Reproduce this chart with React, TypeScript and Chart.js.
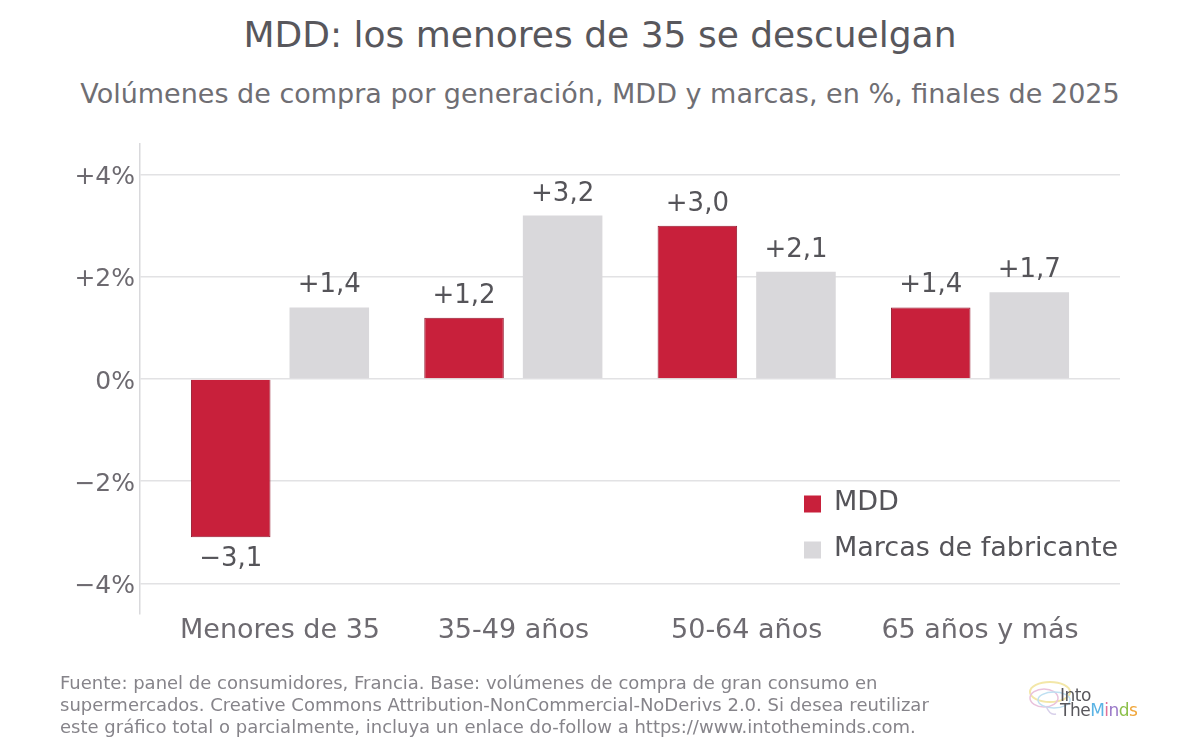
import React, { useEffect, useRef } from "react";
import { Chart, registerables } from "chart.js";

Chart.register(...registerables);

const categories = ["Menores de 35", "35-49 años", "50-64 años", "65 años y más"];
const seriesNames = ["MDD", "Marcas de fabricante"];
const mddValues = [-3.1, 1.2, 3.0, 1.4];
const marcasValues = [1.4, 3.2, 2.1, 1.7];
const yTicks = [-4, -2, 0, 2, 4];
const seriesColors = ["#c8203b", "#d9d8db"];

const FONT = '"DejaVu Sans", sans-serif';

const fmtValue = (v: number) =>
  (v >= 0 ? "+" : "\u2212") + Math.abs(v).toFixed(1).replace(".", ",");
const fmtTick = (v: number) =>
  (v > 0 ? "+" : v < 0 ? "\u2212" : "") + Math.abs(v) + "%";

const labelPlugin = {
  id: "valueLabelsAndLegend",
  afterDatasetsDraw(chart: any) {
    const ctx = chart.ctx;
    ctx.save();
    ctx.font = `26px ${FONT}`;
    ctx.fillStyle = "#555459";
    ctx.textAlign = "center";
    ctx.textBaseline = "alphabetic";
    chart.data.datasets.forEach((ds: any, di: number) => {
      const meta = chart.getDatasetMeta(di);
      meta.data.forEach((bar: any, i: number) => {
        const v = ds.data[i].y;
        const y = v >= 0 ? bar.y - 15 : bar.y + 29;
        ctx.fillText(fmtValue(v), bar.x, y);
      });
    });
    // legend inside the plot area (bottom right)
    const lx = 804;
    const ly = [504, 550];
    ctx.font = `27px ${FONT}`;
    ctx.textAlign = "left";
    ctx.textBaseline = "middle";
    seriesNames.forEach((name, i) => {
      ctx.fillStyle = seriesColors[i];
      ctx.fillRect(lx, ly[i] - 8.5, 17, 17);
      ctx.fillStyle = "#555459";
      ctx.fillText(name, lx + 30, ly[i] - 1);
    });
    ctx.restore();
  },
};

function BarChart() {
  const ref = useRef<HTMLCanvasElement | null>(null);
  useEffect(() => {
    if (!ref.current) return;
    const chart = new Chart(ref.current, {
      type: "bar",
      data: {
        datasets: [
          {
            label: seriesNames[0],
            data: mddValues.map((v, i) => ({ x: i, y: v })),
            backgroundColor: seriesColors[0],
            borderColor: "#951a30",
            borderWidth: 1,
            categoryPercentage: 0.845,
            barPercentage: 0.807,
          },
          {
            label: seriesNames[1],
            data: marcasValues.map((v, i) => ({ x: i, y: v })),
            backgroundColor: seriesColors[1],
            borderWidth: 0,
            categoryPercentage: 0.845,
            barPercentage: 0.807,
          },
        ],
      },
      options: {
        animation: false,
        responsive: true,
        maintainAspectRatio: false,
        layout: { padding: { left: 60, right: 80, top: 144, bottom: 102 } },
        plugins: {
          legend: { display: false },
          title: { display: false },
          tooltip: { enabled: false },
        },
        scales: {
          x: {
            type: "linear",
            min: -0.6,
            max: 3.6,
            offset: false,
            grid: { display: false, drawTicks: false, offset: false },
            border: { display: false },
            afterBuildTicks: (scale: any) => {
              scale.ticks = categories.map((_, i) => ({ value: i }));
            },
            afterFit: (scale: any) => {
              scale.height = 40;
            },
            ticks: {
              autoSkip: false,
              maxRotation: 0,
              padding: 1,
              color: "#6d6a70",
              font: { family: FONT, size: 27 },
              callback: (value: any) => categories[value as number] ?? "",
            },
          },
          y: {
            min: -4.6,
            max: 4.6,
            afterBuildTicks: (scale: any) => {
              scale.ticks = yTicks.map((v) => ({ value: v }));
            },
            afterFit: (scale: any) => {
              scale.width = 80;
            },
            grid: { color: "#e2e2e4", lineWidth: 1.5, drawTicks: false },
            border: { display: true, color: "#d9d9dc", width: 1.5 },
            ticks: {
              padding: 5,
              labelOffset: 3,
              color: "#6d6a70",
              font: { family: FONT, size: 25 },
              callback: (value: any) => fmtTick(Number(value)),
            },
          },
        },
      },
      plugins: [labelPlugin],
    } as any);
    return () => chart.destroy();
  }, []);
  return <canvas ref={ref} />;
}

export default function App() {
  return (
    <div
      style={{
        position: "fixed",
        left: 0,
        top: 0,
        width: 1200,
        height: 756,
        background: "#ffffff",
        fontFamily: FONT,
        overflow: "hidden",
      }}
    >
      <div
        style={{
          position: "absolute",
          left: 0,
          top: 14,
          width: 1200,
          textAlign: "center",
          fontSize: 36,
          lineHeight: "42px",
          color: "#58575c",
        }}
      >
        MDD: los menores de 35 se descuelgan
      </div>
      <div
        style={{
          position: "absolute",
          left: 0,
          top: 78,
          width: 1200,
          textAlign: "center",
          fontSize: 27,
          lineHeight: "32px",
          color: "#6f6e73",
        }}
      >
        Volúmenes de compra por generación, MDD y marcas, en %, finales de 2025
      </div>
      <div style={{ position: "absolute", left: 0, top: 0, width: 1200, height: 756 }}>
        <BarChart />
      </div>
      <div
        style={{
          position: "absolute",
          left: 60,
          top: 672,
          width: 960,
          fontSize: 18,
          lineHeight: "22px",
          color: "#86848a",
        }}
      >
        Fuente: panel de consumidores, Francia. Base: volúmenes de compra de gran consumo en
        <br />
        supermercados. Creative Commons Attribution-NonCommercial-NoDerivs 2.0. Si desea reutilizar
        <br />
        este gráfico total o parcialmente, incluya un enlace do-follow a https://www.intotheminds.com.
      </div>
      <div style={{ position: "absolute", left: 1026, top: 678, width: 120, height: 44 }}>
        <svg width="50" height="44" style={{ position: "absolute", left: 0, top: 0 }}>
          <ellipse cx="24" cy="14" rx="20" ry="10" fill="none" stroke="#f3e7a8" strokeWidth="2" />
          <ellipse cx="18" cy="20" rx="14" ry="9" fill="none" stroke="#e9c2dc" strokeWidth="1.5" />
          <ellipse cx="28" cy="22" rx="16" ry="8" fill="none" stroke="#bfe0f2" strokeWidth="1.5" />
          <path d="M20 28 Q24 38 30 36" fill="none" stroke="#d8d0ea" strokeWidth="1.5" />
        </svg>
        <div
          style={{
            position: "absolute",
            left: 34,
            top: 10,
            fontSize: 17,
            lineHeight: "15px",
            color: "#58575c",
            letterSpacing: -0.5,
          }}
        >
          Into
          <br />
          The
          <span style={{ color: "#5bb3e4" }}>M</span>
          <span style={{ color: "#e0709a" }}>i</span>
          <span style={{ color: "#9a78c8" }}>n</span>
          <span style={{ color: "#8cc04a" }}>d</span>
          <span style={{ color: "#f0a63a" }}>s</span>
        </div>
      </div>
    </div>
  );
}
